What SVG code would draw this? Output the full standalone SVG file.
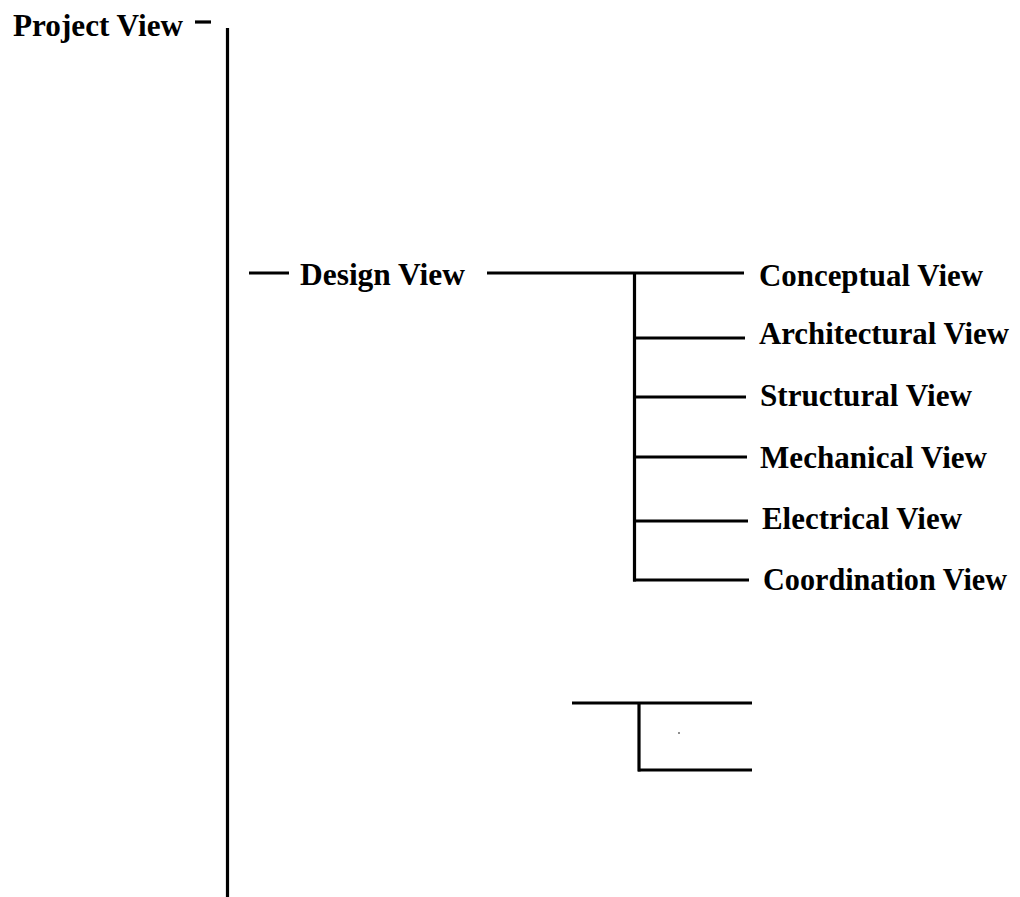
<svg xmlns="http://www.w3.org/2000/svg" width="1020" height="897" viewBox="0 0 1020 897">
  <style>
    .lbl { font-family: "Liberation Serif", "Times New Roman", serif; font-weight: bold; font-size: 32px; fill: #000; }
    .ln { stroke: #000; stroke-width: 3.2; fill: none; }
  </style>
  <rect width="1020" height="897" fill="#fff"/>

  <g id="connectors">
    <!-- main trunk -->
    <line class="ln" x1="227.5" y1="28" x2="227.5" y2="897" stroke-width="3.4"/>
    <!-- marks beside the labels -->
    <line class="ln" x1="195" y1="22" x2="211" y2="22"/>
    <line class="ln" x1="249" y1="273" x2="289" y2="273" stroke-width="3.6"/>
    <!-- design view branch -->
    <line class="ln" x1="487" y1="273" x2="744" y2="273"/>
    <line class="ln" x1="634.5" y1="273" x2="634.5" y2="581.5"/>
    <line class="ln" x1="634" y1="338" x2="745" y2="338"/>
    <line class="ln" x1="634" y1="397" x2="746" y2="397"/>
    <line class="ln" x1="634" y1="457" x2="747" y2="457"/>
    <line class="ln" x1="634" y1="521" x2="748" y2="521"/>
    <line class="ln" x1="633" y1="580" x2="749" y2="580"/>
    <!-- lower unlabeled branch -->
    <line class="ln" x1="572" y1="703" x2="752" y2="703"/>
    <line class="ln" x1="639" y1="703" x2="639" y2="771.5"/>
    <line class="ln" x1="638" y1="770" x2="752" y2="770"/>
    <circle cx="679" cy="733" r="0.8" fill="#000"/>
  </g>

  <g id="project-view"><text class="lbl" x="13" y="36" textLength="170" lengthAdjust="spacingAndGlyphs">Project View</text></g>
  <g id="design-view"><text class="lbl" x="300" y="285" textLength="165" lengthAdjust="spacingAndGlyphs">Design View</text></g>
  <g id="conceptual-view"><text class="lbl" x="759" y="286" textLength="224" lengthAdjust="spacingAndGlyphs">Conceptual View</text></g>
  <g id="architectural-view"><text class="lbl" x="759" y="344" textLength="250" lengthAdjust="spacingAndGlyphs">Architectural View</text></g>
  <g id="structural-view"><text class="lbl" x="760" y="406" textLength="212" lengthAdjust="spacingAndGlyphs">Structural View</text></g>
  <g id="mechanical-view"><text class="lbl" x="760" y="468" textLength="227" lengthAdjust="spacingAndGlyphs">Mechanical View</text></g>
  <g id="electrical-view"><text class="lbl" x="762" y="529" textLength="200" lengthAdjust="spacingAndGlyphs">Electrical View</text></g>
  <g id="coordination-view"><text class="lbl" x="763" y="590" font-size="29.5" textLength="244" lengthAdjust="spacingAndGlyphs">Coordination View</text></g>
</svg>
